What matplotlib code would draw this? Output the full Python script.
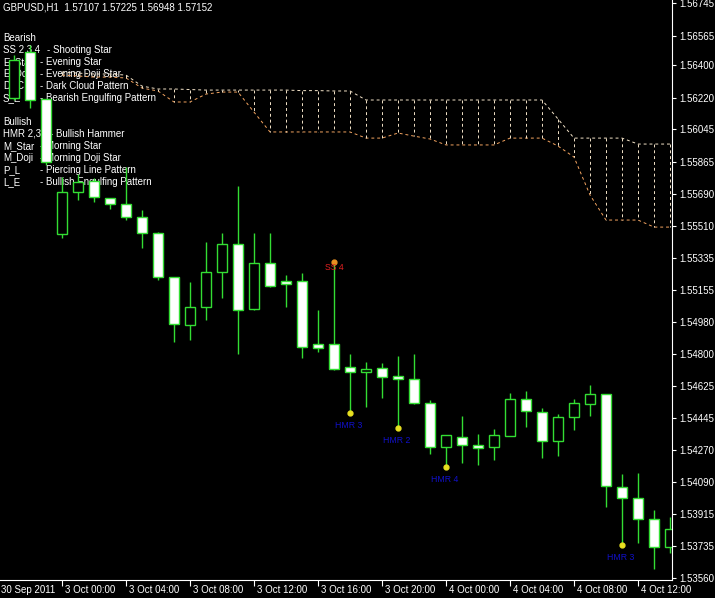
import matplotlib
matplotlib.use("Agg")
import matplotlib.pyplot as plt
from matplotlib.patches import Rectangle
import matplotlib.transforms as mtrans

plt.rcParams['font.family'] = ['Liberation Sans', 'DejaVu Sans']

# OHLC per hourly bar (bar index 0..41)
opens  = [1.56219,1.56474,1.56213,1.55466,1.55698,1.55759,1.55665,1.55632,1.55560,1.55471,
          1.55227,1.54961,1.55061,1.55255,1.55410,1.55050,1.55305,1.55205,1.55205,1.54856,
          1.54856,1.54729,1.54701,1.54723,1.54679,1.54662,1.54529,1.54286,1.54341,1.54297,
          1.54286,1.54347,1.54552,1.54480,1.54319,1.54452,1.54524,1.54579,1.54064,1.54003,
          1.53887,1.53732]
highs  = [1.56457,1.56512,1.56213,1.55781,1.55798,1.55776,1.55665,1.55837,1.55598,1.55477,
          1.55227,1.55200,1.55421,1.55471,1.55731,1.55471,1.55471,1.55238,1.55250,1.55045,
          1.55310,1.54801,1.54757,1.54751,1.54790,1.54801,1.54546,1.54352,1.54457,1.54358,
          1.54385,1.54585,1.54596,1.54502,1.54469,1.54552,1.54629,1.54579,1.54136,1.54142,
          1.53937,1.53898]
lows   = [1.56208,1.56163,1.55848,1.55443,1.55654,1.55643,1.55604,1.55543,1.55388,1.55211,
          1.54867,1.54878,1.54989,1.55111,1.54801,1.55045,1.55172,1.55061,1.54779,1.54812,
          1.54712,1.54474,1.54507,1.54557,1.54391,1.54524,1.54247,1.54175,1.54197,1.54186,
          1.54214,1.54347,1.54397,1.54225,1.54236,1.54380,1.54457,1.53953,1.53743,1.53754,
          1.53610,1.53700]
closes = [1.56429,1.56208,1.55864,1.55698,1.55754,1.55670,1.55632,1.55560,1.55471,1.55227,
          1.54967,1.55061,1.55255,1.55410,1.55045,1.55305,1.55178,1.55189,1.54840,1.54834,
          1.54718,1.54701,1.54718,1.54673,1.54662,1.54529,1.54286,1.54352,1.54297,1.54280,
          1.54352,1.54552,1.54485,1.54319,1.54452,1.54529,1.54579,1.54070,1.54003,1.53887,
          1.53732,1.53832]

# Ichimoku cloud boundaries from bar 3 to bar 41
cloud_start = 3
span_a = [1.56363,1.56357,1.56352,1.56352,1.56346,1.56285,1.56269,1.56269,1.56266,1.56263,
          1.56263,1.56263,1.56263,1.56263,1.56263,1.56260,1.56260,1.56258,1.56258,1.56208,
          1.56208,1.56208,1.56208,1.56208,1.56208,1.56208,1.56208,1.56208,1.56208,1.56208,
          1.56208,1.56103,1.55997,1.55997,1.55997,1.55997,1.55964,1.55964,1.55964]
span_b = [1.56346,1.56341,1.56335,1.56335,1.56330,1.56274,1.56258,1.56197,1.56197,1.56241,
          1.56252,1.56252,1.56141,1.56031,1.56031,1.56031,1.56031,1.56031,1.56031,1.55997,
          1.55997,1.56025,1.56008,1.55992,1.55959,1.55959,1.55959,1.55959,1.55997,1.55997,
          1.55997,1.55953,1.55892,1.55682,1.55543,1.55543,1.55543,1.55504,1.55504]

hammers = [(21, "HMR 3"), (24, "HMR 2"), (27, "HMR 4"), (38, "HMR 3")]
shooting = [(20, "SS 4")]

ytick_vals = [1.56745,1.56565,1.56400,1.56220,1.56045,1.55865,1.55690,1.55510,1.55335,1.55155,
              1.54980,1.54800,1.54625,1.54445,1.54270,1.54090,1.53915,1.53735,1.53560]
xtick_pos = [-1,3,7,11,15,19,23,27,31,35,39]
xtick_labels = ["30 Sep 2011","3 Oct 00:00","3 Oct 04:00","3 Oct 08:00","3 Oct 12:00",
                "3 Oct 16:00","3 Oct 20:00","4 Oct 00:00","4 Oct 04:00","4 Oct 08:00","4 Oct 12:00"]

title = "GBPUSD,H1  1.57107 1.57225 1.56948 1.57152"
legend_lines = [("Bearish",""),("SS 2,3,4","- Shooting Star"),("E_Star","- Evening Star"),
                ("E_Doji","- Evening Doji Star"),("DCC","- Dark Cloud Pattern"),
                ("S_E","- Bearish Engulfing Pattern"),("",""),("Bullish",""),
                ("HMR 2,3,4","- Bullish Hammer"),("M_Star","- Morning Star"),
                ("M_Doji","- Morning Doji Star"),("P_L","- Piercing Line Pattern"),
                ("L_E","- Bullish Engulfing Pattern")]

W, H = 715, 598
fig = plt.figure(figsize=(W/100, H/100), dpi=100, facecolor="black")
ax = fig.add_axes([0, 18/H, 672/W, 580/H], facecolor="black")
ax.set_xlim(-0.875, 41.125)
ax.set_ylim(1.53549, 1.56762)

green = "#33dd33"
body_w = 0.62
for i,(o,h,l,c) in enumerate(zip(opens,highs,lows,closes)):
    ax.plot([i,i],[l,h], color=green, lw=1, zorder=3, solid_capstyle="butt")
    bottom, top = min(o,c), max(o,c)
    fc = "white" if c < o else "black"
    ax.add_patch(Rectangle((i-body_w/2, bottom), body_w, max(top-bottom,0.00003),
                           facecolor=fc, edgecolor=green, lw=1, zorder=4))

xs = list(range(cloud_start, cloud_start+len(span_a)))
ax.plot(xs, span_a, color="#f3e3c8", lw=0.7, ls=(0,(3,3)), zorder=2)
ax.plot(xs, span_b, color="#f4a460", lw=0.7, ls=(0,(3,3)), zorder=2)
for x,a,b in zip(xs, span_a, span_b):
    ax.plot([x,x],[a,b], color="#f3e3c8", lw=0.7, ls=(0,(3,3)), zorder=2)

for k,lab in hammers:
    ax.plot(k, lows[k], "o", color="#e8e020", ms=3.5, zorder=5)
    ax.annotate(lab, (k, lows[k]), xytext=(-1,-6), textcoords="offset points",
                ha="center", va="top", color="#1010c8", fontsize=6.3, zorder=5)
for k,lab in shooting:
    ax.plot(k, highs[k], "o", color="#e89020", ms=3.5, zorder=5)
    ax.annotate(lab, (k, highs[k]), xytext=(0,-4), textcoords="offset points",
                ha="center", va="center", color="#e02020", fontsize=6.3, zorder=6)

for s in ["top","left"]:
    ax.spines[s].set_visible(False)
for s in ["right","bottom"]:
    ax.spines[s].set_color("white")
ax.yaxis.tick_right()
ax.set_yticks(ytick_vals)
ax.set_yticklabels([f"{v:.5f}" for v in ytick_vals])
ax.tick_params(axis="y", colors="white", labelsize=7, length=3, pad=2)
ax.set_xticks(xtick_pos[1:])
ax.set_xticklabels([])
ax.tick_params(axis="x", colors="white", length=4)
trans = mtrans.blended_transform_factory(ax.transData, ax.transAxes)
for p,lab in zip(xtick_pos, xtick_labels):
    ax.text(p+0.18, -0.008, lab, transform=trans, ha="left", va="top",
            color="white", fontsize=7, clip_on=False)

fig.text(3/W, 1-3/H, title, color="white", fontsize=7, va="top", ha="left")
for j,(a,b) in enumerate(legend_lines):
    y = 1-(38+j*12)/H
    ax.text(3/W, y, a, transform=fig.transFigure, color="white", fontsize=7,
            va="center", ha="left", zorder=1)
    if b:
        bx = 50 if a.startswith("HMR") else (47 if a.startswith("SS") else 40)
        ax.text(bx/W, y, b, transform=fig.transFigure, color="white", fontsize=7,
                va="center", ha="left", zorder=1)

fig.savefig("out.png", dpi=100, facecolor="black")
